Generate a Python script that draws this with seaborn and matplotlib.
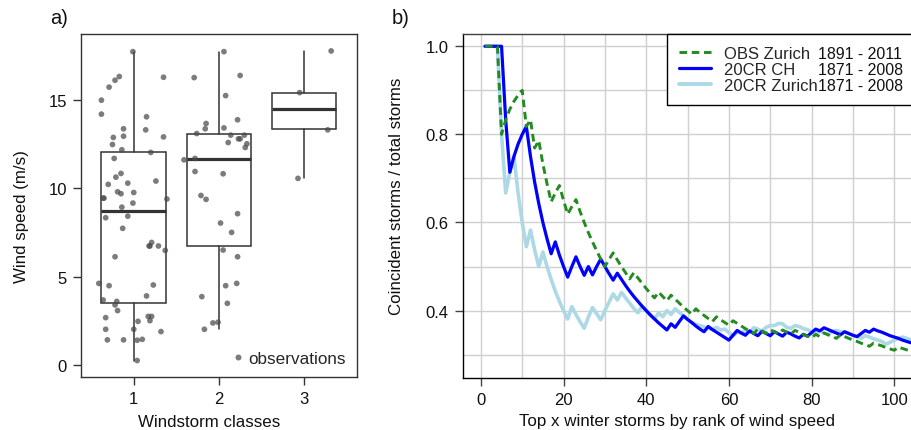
import numpy as np
import pandas as pd
import matplotlib
matplotlib.use("Agg")
import matplotlib.pyplot as plt
from matplotlib.lines import Line2D
from matplotlib.ticker import FormatStrFormatter
import seaborn as sns

sns.set_theme(style="white")
plt.rcParams["font.family"] = ["Liberation Sans", "DejaVu Sans"]

# ---------------- panel a data ----------------
classes = [1, 2, 3]
box_whislo = [0.24, 2.04, 10.58]
box_q1 = [3.53, 6.75, 13.34]
box_med = [8.70, 11.64, 14.49]
box_q3 = [12.07, 13.07, 15.39]
box_whishi = [17.75, 17.73, 17.77]

obs1_x = [0.99, 0.83, 0.78, 0.71, 0.62, 0.62, 1.35, 1.15, 1.14, 0.88, 0.76, 0.88, 1.35, 0.75, 0.86,
          1.20, 0.77, 0.79, 0.85, 0.70, 0.93, 1.26, 0.81, 0.85, 1.00, 0.64, 0.65, 1.39, 0.99, 0.86,
          0.93, 0.67, 0.87, 1.21, 1.19, 1.18, 1.29, 1.37, 0.78, 0.59, 0.71, 1.23, 1.15, 0.64, 0.80,
          0.78, 0.81, 0.67, 1.17, 1.21, 1.19, 1.05, 0.67, 1.00, 1.32, 0.69, 0.88, 1.04, 1.10, 1.04]
obs1_y = [17.75, 16.34, 16.13, 15.74, 15.00, 14.21, 16.30, 14.06, 13.32, 13.38, 12.89, 12.96, 12.92,
          12.49, 12.19, 12.04, 11.70, 10.64, 10.85, 10.23, 10.30, 10.42, 9.81, 9.70, 9.77, 9.45, 9.45,
          9.40, 9.17, 8.94, 8.43, 8.34, 7.74, 6.94, 6.74, 6.74, 6.74, 6.49, 6.13, 4.62, 4.49, 4.53,
          3.91, 3.68, 3.60, 3.40, 3.08, 2.68, 2.75, 2.75, 2.51, 2.47, 2.02, 2.02, 1.89, 1.42, 1.42,
          1.40, 1.45, 0.25]
obs2_x = [2.06, 1.71, 2.25, 2.08, 2.22, 1.85, 2.06, 1.84, 1.74, 2.11, 2.14, 2.23, 2.25, 2.30, 2.33,
          2.31, 1.59, 1.72, 1.72, 2.05, 1.79, 1.85, 2.02, 2.22, 2.15, 2.05, 2.22, 2.08, 2.21, 1.80,
          2.10, 1.93, 1.99, 1.83]
obs2_y = [17.75, 16.28, 16.40, 15.26, 13.89, 13.68, 13.43, 13.38, 13.11, 12.60, 13.02, 12.81, 12.81,
          13.02, 12.53, 12.32, 11.62, 11.70, 10.96, 10.83, 9.60, 9.38, 8.04, 8.57, 7.51, 6.51, 6.13,
          4.49, 4.62, 3.87, 3.49, 2.38, 2.42, 2.02]
obs3_x = [2.95, 3.32, 3.28, 2.93]
obs3_y = [15.43, 17.79, 13.32, 10.57]

# ---------------- panel b data ----------------
rank = list(range(1, 105))
obs_zurich = [1.000, 1.000, 1.000, 1.000, 0.800, 0.833, 0.857, 0.875, 0.889, 0.900,
              0.818, 0.833, 0.769, 0.786, 0.733, 0.688, 0.647, 0.667, 0.684, 0.650,
              0.619, 0.636, 0.652, 0.625, 0.600, 0.577, 0.556, 0.536, 0.517, 0.500,
              0.516, 0.531, 0.515, 0.500, 0.486, 0.472, 0.486, 0.474, 0.462, 0.450,
              0.439, 0.429, 0.442, 0.432, 0.422, 0.435, 0.426, 0.417, 0.408, 0.400,
              0.392, 0.404, 0.396, 0.389, 0.382, 0.375, 0.386, 0.379, 0.373, 0.367,
              0.377, 0.371, 0.365, 0.359, 0.354, 0.348, 0.358, 0.353, 0.348, 0.357,
              0.352, 0.347, 0.356, 0.351, 0.347, 0.355, 0.351, 0.346, 0.342, 0.338,
              0.346, 0.341, 0.349, 0.345, 0.341, 0.337, 0.345, 0.341, 0.337, 0.333,
              0.330, 0.326, 0.323, 0.319, 0.326, 0.323, 0.320, 0.316, 0.313, 0.310,
              0.317, 0.314, 0.311, 0.308]
cr_ch = [1.000, 1.000, 1.000, 1.000, 1.000, 0.833, 0.714, 0.750, 0.778, 0.800,
         0.818, 0.750, 0.692, 0.643, 0.600, 0.563, 0.529, 0.556, 0.526, 0.500,
         0.476, 0.500, 0.522, 0.500, 0.480, 0.500, 0.481, 0.500, 0.517, 0.500,
         0.484, 0.469, 0.485, 0.471, 0.457, 0.444, 0.432, 0.421, 0.410, 0.400,
         0.390, 0.381, 0.372, 0.364, 0.356, 0.370, 0.362, 0.375, 0.388, 0.380,
         0.373, 0.365, 0.358, 0.352, 0.364, 0.357, 0.351, 0.345, 0.339, 0.333,
         0.344, 0.355, 0.349, 0.344, 0.354, 0.348, 0.343, 0.353, 0.348, 0.343,
         0.352, 0.347, 0.342, 0.351, 0.347, 0.342, 0.338, 0.346, 0.342, 0.350,
         0.358, 0.354, 0.361, 0.357, 0.353, 0.349, 0.345, 0.352, 0.348, 0.344,
         0.341, 0.348, 0.355, 0.351, 0.358, 0.354, 0.351, 0.347, 0.343, 0.340,
         0.337, 0.333, 0.330, 0.327]
cr_zurich = [1.000, 1.000, 1.000, 1.000, 0.800, 0.667, 0.714, 0.750, 0.667, 0.600,
             0.545, 0.583, 0.538, 0.500, 0.533, 0.500, 0.471, 0.444, 0.421, 0.400,
             0.381, 0.409, 0.391, 0.375, 0.360, 0.385, 0.407, 0.393, 0.379, 0.400,
             0.419, 0.438, 0.424, 0.441, 0.429, 0.417, 0.405, 0.395, 0.410, 0.400,
             0.390, 0.381, 0.395, 0.386, 0.400, 0.391, 0.404, 0.396, 0.388, 0.380,
             0.373, 0.369, 0.366, 0.363, 0.360, 0.357, 0.362, 0.356, 0.358, 0.350,
             0.343, 0.351, 0.349, 0.355, 0.351, 0.361, 0.358, 0.353, 0.362, 0.366,
             0.366, 0.371, 0.370, 0.362, 0.360, 0.366, 0.364, 0.359, 0.357, 0.352,
             0.348, 0.354, 0.349, 0.347, 0.353, 0.355, 0.352, 0.351, 0.348, 0.344,
             0.341, 0.337, 0.343, 0.340, 0.336, 0.333, 0.330, 0.324, 0.328, 0.333,
             0.337, 0.340, 0.337, 0.334]
series_names = ["OBS Zurich", "20CR CH", "20CR Zurich"]
series_years = ["1891 - 2011", "1871 - 2008", "1871 - 2008"]

# ---------------- figure ----------------
W, H = 912, 431
fig = plt.figure(figsize=(W / 100, H / 100), dpi=100)


def rect(l, t, r, b):
    return [l / W, 1 - b / H, (r - l) / W, (b - t) / H]


ax1 = fig.add_axes(rect(81, 35, 356.7, 378.3))
ax2 = fig.add_axes(rect(462.7, 34.5, 912, 379))

dark = "#333333"
pt_col = "#4a4a4a"
txt = "#111111"
lab_fs = 12.2
tick_fs = 12
leg_fs = 12

# ---- panel a ----
stats = []
for i in range(len(classes)):
    stats.append(dict(whislo=box_whislo[i], q1=box_q1[i], med=box_med[i],
                      q3=box_q3[i], whishi=box_whishi[i], fliers=[]))
ax1.bxp(stats, positions=classes, widths=0.76, showcaps=False, showfliers=False,
        patch_artist=True, manage_ticks=False,
        boxprops=dict(facecolor="white", edgecolor=dark, linewidth=1.1),
        medianprops=dict(color=dark, linewidth=2.3, solid_capstyle="butt"),
        whiskerprops=dict(color=dark, linewidth=1.1))

pts = pd.DataFrame({"x": obs1_x + obs2_x + obs3_x, "y": obs1_y + obs2_y + obs3_y})
sns.scatterplot(data=pts, x="x", y="y", ax=ax1, color=pt_col, alpha=0.72, s=17,
                edgecolor="none", linewidth=0, legend=False, zorder=4)

ax1.set_xticks(classes)
ax1.set_yticks([0, 5, 10, 15])
ax1.set_xlim(0.38, 3.62)
ax1.set_ylim(-0.70, 18.75)
ax1.tick_params(axis="both", direction="out", length=5.5, width=1, color=dark,
                labelsize=tick_fs, pad=4.5, bottom=True, left=True, labelcolor=txt)
for s in ax1.spines.values():
    s.set_color(dark)
    s.set_linewidth(1.0)
ax1.set_xlabel("Windstorm classes", fontsize=lab_fs, color=txt)
ax1.set_ylabel("Wind speed (m/s)", fontsize=lab_fs, color=txt)
ax1.xaxis.set_label_coords((209.5 - 81) / (356.7 - 81), -(423 - 378.3) / (378.3 - 35))
ax1.yaxis.set_label_coords(-(81 - 22) / (356.7 - 81), (378.3 - 217) / (378.3 - 35))
ax1.xaxis.label.set_va("center")
ax1.yaxis.label.set_va("center")
ax1.legend(handles=[Line2D([], [], marker="o", ls="", color=pt_col, alpha=0.72,
                           markersize=4.3, markeredgewidth=0)],
           labels=["observations"], loc="lower right", frameon=False, fontsize=12.3,
           handletextpad=0.05, borderaxespad=0.25, handlelength=1.1)

# ---- panel b ----
ax2.set_axisbelow(True)
sns.lineplot(x=rank, y=cr_zurich, ax=ax2, color="#ADD8E6", linewidth=2.6, errorbar=None)
sns.lineplot(x=rank, y=cr_ch, ax=ax2, color="#0000FF", linewidth=2.3, errorbar=None)
sns.lineplot(x=rank, y=obs_zurich, ax=ax2, color="#228B22", linewidth=2.1, errorbar=None)
ax2.lines[-1].set_dashes([2.6, 1.6])

ax2.set_xticks(np.arange(0, 101, 20))
ax2.set_xticks(np.arange(0, 101, 10), minor=True)
ax2.set_yticks([0.4, 0.6, 0.8, 1.0])
ax2.set_yticks(np.arange(0.3, 1.01, 0.1), minor=True)
ax2.set_xlim(-4.4, 104.3)
ax2.set_ylim(0.247, 1.029)
ax2.yaxis.set_major_formatter(FormatStrFormatter("%.1f"))
ax2.grid(which="both", color="#d0d0d0", linewidth=1.0)
ax2.tick_params(which="minor", length=0)
ax2.tick_params(which="major", direction="out", length=5.5, width=1, color="#444444",
                labelsize=tick_fs, pad=4.5, bottom=True, left=True, labelcolor=txt)
ax2.spines["right"].set_visible(False)
for k in ["left", "bottom"]:
    ax2.spines[k].set_color("black")
    ax2.spines[k].set_linewidth(1.0)
ax2.spines["top"].set_color("#404040")
ax2.spines["top"].set_linewidth(1.0)
ax2.set_xlabel("Top x winter storms by rank of wind speed", fontsize=lab_fs, color=txt)
ax2.set_ylabel("Coincident storms / total storms", fontsize=lab_fs, color=txt)
ax2.xaxis.set_label_coords((677 - 462.7) / (912 - 462.7), -(421.7 - 379) / (379 - 34.5))
ax2.yaxis.set_label_coords(-(462.7 - 397) / (912 - 462.7), (379 - 196) / (379 - 34.5))
ax2.xaxis.label.set_va("center")
ax2.yaxis.label.set_va("center")

handles = [Line2D([], [], color="#228B22", lw=2.1, dashes=[2.6, 1.6]),
           Line2D([], [], color="#0000FF", lw=2.3),
           Line2D([], [], color="#ADD8E6", lw=2.8)]
x0 = (667 - 462.7) / (912 - 462.7)
leg = ax2.legend(handles, series_names, loc="upper left", bbox_to_anchor=(x0, 1.0, 0.8, 0),
                 mode="expand", borderaxespad=0, fontsize=leg_fs, handlelength=1.9,
                 handletextpad=0.75, borderpad=0.75, labelspacing=0.05, frameon=True,
                 fancybox=False, edgecolor="black", framealpha=1)
leg.get_frame().set_linewidth(1.0)
leg.set_zorder(10)

fig.canvas.draw()
for t, yr in zip(leg.get_texts(), series_years):
    bb = t.get_window_extent()
    yc = (bb.y0 + bb.y1) / 2
    fig.text(818 / W, yc / H, yr, fontsize=leg_fs * 0.95, va="center", ha="left",
             color=txt, zorder=11)

fig.text(50 / W, 1 - 18 / H, "a)", fontsize=14.5, va="center", ha="left", color=txt)
fig.text(392 / W, 1 - 18 / H, "b)", fontsize=14.5, va="center", ha="left", color=txt)

fig.savefig("out.png", dpi=100)
